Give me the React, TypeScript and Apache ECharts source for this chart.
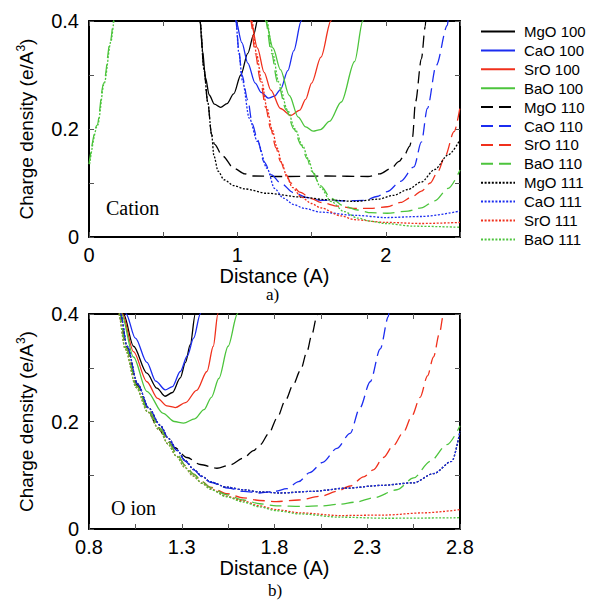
import React, { useEffect, useRef } from 'react';
import * as echarts from 'echarts';

// ---------- Legend / series names ----------
const seriesNames = [
  'MgO 100', 'CaO 100', 'SrO 100', 'BaO 100',
  'MgO 110', 'CaO 110', 'SrO 110', 'BaO 110',
  'MgO 111', 'CaO 111', 'SrO 111', 'BaO 111',
];

// ---------- Axis tick values ----------
const cationXTicks = [0, 1, 2];
const oIonXTicks = [0.8, 1.3, 1.8, 2.3, 2.8];
const yTicks = [0, 0.2, 0.4];

// ---------- Panel a) Cation : [distance (A), charge density (e/A^3)] ----------
const cationMgO100 = [[0.735,0.44],[0.748,0.40],[0.765,0.345],[0.785,0.295],[0.81,0.263],[0.845,0.246],[0.887,0.240],[0.93,0.247],[0.975,0.265],[1.023,0.300],[1.07,0.34],[1.11,0.375],[1.135,0.40],[1.145,0.42]];
const cationCaO100 = [[0.98,0.44],[0.99,0.40],[1.03,0.36],[1.07,0.322],[1.12,0.285],[1.16,0.268],[1.21,0.257],[1.25,0.261],[1.29,0.273],[1.34,0.308],[1.38,0.345],[1.43,0.40],[1.445,0.42]];
const cationSrO100 = [[1.08,0.44],[1.09,0.40],[1.135,0.35],[1.18,0.305],[1.225,0.272],[1.29,0.238],[1.36,0.225],[1.42,0.235],[1.46,0.255],[1.50,0.285],[1.563,0.333],[1.63,0.40],[1.645,0.42]];
const cationBaO100 = [[1.18,0.44],[1.19,0.40],[1.24,0.35],[1.29,0.31],[1.35,0.262],[1.41,0.222],[1.46,0.204],[1.51,0.196],[1.56,0.199],[1.62,0.214],[1.70,0.25],[1.79,0.325],[1.845,0.40],[1.86,0.42]];
const cationMgO110 = [[0.735,0.44],[0.748,0.40],[0.775,0.31],[0.80,0.25],[0.826,0.19],[0.845,0.172],[0.90,0.15],[0.977,0.127],[1.05,0.117],[1.11,0.113],[1.3,0.112],[1.6,0.113],[1.88,0.112],[1.96,0.117],[2.036,0.127],[2.09,0.14],[2.126,0.152],[2.16,0.168],[2.18,0.185],[2.20,0.25],[2.24,0.33],[2.266,0.39],[2.272,0.42]];
const cationCaO110 = [[0.98,0.44],[0.99,0.40],[1.01,0.345],[1.03,0.30],[1.07,0.254],[1.10,0.21],[1.135,0.18],[1.18,0.139],[1.23,0.115],[1.29,0.10],[1.38,0.082],[1.47,0.073],[1.56,0.068],[1.7,0.067],[1.86,0.068],[1.94,0.075],[2.01,0.084],[2.1,0.103],[2.19,0.13],[2.24,0.176],[2.28,0.238],[2.34,0.318],[2.415,0.392],[2.425,0.42]];
const cationSrO110 = [[1.08,0.44],[1.09,0.40],[1.12,0.34],[1.157,0.287],[1.19,0.24],[1.225,0.20],[1.26,0.165],[1.29,0.14],[1.33,0.115],[1.36,0.10],[1.42,0.083],[1.5,0.071],[1.56,0.064],[1.68,0.057],[1.79,0.053],[1.9,0.053],[2.01,0.056],[2.1,0.064],[2.18,0.075],[2.24,0.085],[2.3,0.10],[2.35,0.121],[2.4,0.15],[2.46,0.195],[2.5,0.24]];
const cationBaO110Left = [[0,0.135],[0.054,0.207],[0.099,0.285],[0.144,0.362],[0.166,0.40],[0.175,0.42]];
const cationBaO110 = [[1.18,0.44],[1.19,0.40],[1.23,0.34],[1.27,0.287],[1.33,0.235],[1.38,0.20],[1.43,0.17],[1.47,0.145],[1.5,0.122],[1.56,0.095],[1.63,0.072],[1.72,0.057],[1.81,0.05],[1.9,0.045],[2.01,0.044],[2.15,0.048],[2.24,0.054],[2.33,0.067],[2.42,0.09],[2.5,0.124]];
const cationMgO111 = [[0.735,0.44],[0.748,0.40],[0.775,0.31],[0.80,0.25],[0.826,0.19],[0.842,0.15],[0.87,0.122],[0.91,0.106],[0.977,0.095],[1.05,0.089],[1.2,0.081],[1.43,0.074],[1.6,0.069],[1.79,0.066],[1.95,0.07],[2.05,0.077],[2.15,0.088],[2.24,0.102],[2.33,0.125],[2.42,0.152],[2.5,0.18]];
const cationCaO111 = [[0.98,0.44],[0.99,0.40],[1.01,0.34],[1.034,0.29],[1.08,0.22],[1.135,0.177],[1.2,0.127],[1.25,0.09],[1.31,0.072],[1.38,0.06],[1.45,0.053],[1.56,0.046],[1.8,0.04],[2.0,0.036],[2.24,0.038],[2.5,0.048]];
const cationSrO111 = [[1.088,0.44],[1.098,0.40],[1.128,0.34],[1.165,0.287],[1.198,0.24],[1.233,0.20],[1.268,0.165],[1.298,0.138],[1.335,0.11],[1.37,0.092],[1.43,0.074],[1.5,0.062],[1.56,0.054],[1.7,0.039],[1.79,0.032],[2.0,0.027],[2.24,0.025],[2.5,0.027]];
const cationBaO111Left = [[0.004,0.135],[0.058,0.207],[0.103,0.285],[0.148,0.362],[0.17,0.40],[0.18,0.42]];
const cationBaO111 = [[1.188,0.44],[1.198,0.40],[1.238,0.34],[1.278,0.287],[1.338,0.235],[1.388,0.20],[1.438,0.17],[1.478,0.145],[1.51,0.12],[1.56,0.092],[1.63,0.066],[1.72,0.047],[1.81,0.035],[1.9,0.029],[2.0,0.025],[2.19,0.02],[2.5,0.018]];

// ---------- Panel b) O ion ----------
const oIonMgO100 = [[0.975,0.44],[0.986,0.40],[1.04,0.34],[1.112,0.29],[1.166,0.262],[1.21,0.247],[1.25,0.254],[1.292,0.281],[1.32,0.31],[1.346,0.343],[1.373,0.40],[1.38,0.42]];
const oIonCaO100 = [[0.99,0.44],[1.0,0.40],[1.05,0.355],[1.112,0.31],[1.16,0.275],[1.211,0.259],[1.25,0.265],[1.292,0.293],[1.33,0.322],[1.364,0.355],[1.40,0.40],[1.41,0.42]];
const oIonSrO100 = [[0.97,0.44],[0.98,0.40],[1.04,0.33],[1.112,0.274],[1.17,0.243],[1.22,0.229],[1.265,0.226],[1.32,0.235],[1.38,0.258],[1.436,0.293],[1.47,0.34],[1.495,0.40],[1.5,0.42]];
const oIonBaO100 = [[0.965,0.44],[0.975,0.40],[1.04,0.32],[1.112,0.256],[1.2,0.215],[1.26,0.2],[1.31,0.197],[1.37,0.205],[1.42,0.222],[1.46,0.245],[1.5,0.28],[1.55,0.34],[1.6,0.40],[1.61,0.42]];
const oIonMgO110 = [[0.955,0.44],[0.965,0.40],[1.0,0.34],[1.059,0.268],[1.12,0.222],[1.16,0.195],[1.202,0.176],[1.26,0.152],[1.328,0.133],[1.4,0.12],[1.49,0.113],[1.56,0.119],[1.633,0.132],[1.687,0.146],[1.723,0.157],[1.77,0.178],[1.813,0.206],[1.86,0.24],[1.9,0.268],[1.94,0.295],[1.975,0.33],[2.0,0.36],[2.028,0.395],[2.035,0.42]];
const oIonCaO110 = [[0.96,0.44],[0.97,0.40],[1.005,0.34],[1.062,0.27],[1.122,0.225],[1.184,0.192],[1.23,0.167],[1.274,0.146],[1.32,0.126],[1.364,0.11],[1.41,0.097],[1.454,0.087],[1.55,0.076],[1.633,0.07],[1.72,0.067],[1.8,0.07],[1.867,0.075],[1.93,0.088],[1.99,0.105],[2.06,0.124],[2.136,0.15],[2.208,0.178],[2.26,0.225],[2.316,0.274],[2.37,0.335],[2.414,0.395],[2.42,0.42]];
const oIonSrO110 = [[0.955,0.44],[0.965,0.40],[1.0,0.337],[1.059,0.265],[1.12,0.22],[1.184,0.187],[1.23,0.161],[1.274,0.139],[1.32,0.118],[1.364,0.102],[1.41,0.088],[1.454,0.078],[1.54,0.066],[1.633,0.058],[1.72,0.053],[1.81,0.051],[1.93,0.054],[2.05,0.061],[2.136,0.07],[2.208,0.08],[2.28,0.097],[2.333,0.11],[2.387,0.133],[2.44,0.155],[2.495,0.18],[2.54,0.21],[2.585,0.245],[2.625,0.285],[2.657,0.32],[2.69,0.365],[2.71,0.398],[2.72,0.42]];
const oIonBaO110 = [[0.955,0.44],[0.965,0.40],[1.0,0.337],[1.059,0.265],[1.12,0.22],[1.184,0.187],[1.23,0.161],[1.274,0.139],[1.32,0.118],[1.364,0.102],[1.41,0.088],[1.454,0.077],[1.54,0.064],[1.633,0.054],[1.72,0.047],[1.81,0.043],[1.95,0.042],[2.05,0.043],[2.15,0.046],[2.24,0.05],[2.333,0.058],[2.46,0.073],[2.55,0.095],[2.64,0.126],[2.73,0.157],[2.8,0.192]];
const oIonMgO111 = [[0.96,0.44],[0.97,0.40],[1.005,0.34],[1.062,0.27],[1.122,0.225],[1.184,0.193],[1.23,0.168],[1.274,0.147],[1.32,0.127],[1.364,0.111],[1.41,0.098],[1.454,0.088],[1.54,0.078],[1.633,0.073],[1.72,0.069],[1.83,0.067],[2.0,0.07],[2.19,0.076],[2.37,0.081],[2.55,0.086],[2.657,0.103],[2.756,0.126],[2.8,0.182]];
const oIonCaO111 = [[0.96,0.44],[0.97,0.40],[1.005,0.34],[1.062,0.27],[1.122,0.225],[1.184,0.193],[1.23,0.168],[1.274,0.147],[1.32,0.127],[1.364,0.111],[1.41,0.098],[1.454,0.088],[1.54,0.078],[1.633,0.073],[1.72,0.069],[1.83,0.067],[2.0,0.07],[2.19,0.076],[2.37,0.081],[2.55,0.086],[2.657,0.103],[2.756,0.126],[2.8,0.182]];
const oIonSrO111 = [[0.95,0.44],[0.96,0.40],[0.995,0.335],[1.055,0.263],[1.116,0.218],[1.18,0.184],[1.226,0.158],[1.27,0.136],[1.316,0.115],[1.36,0.099],[1.41,0.085],[1.454,0.075],[1.54,0.061],[1.633,0.052],[1.72,0.043],[1.81,0.036],[1.94,0.03],[2.15,0.025],[2.4,0.026],[2.6,0.03],[2.8,0.036]];
const oIonBaO111 = [[0.95,0.44],[0.96,0.40],[0.995,0.335],[1.055,0.263],[1.116,0.218],[1.18,0.184],[1.226,0.158],[1.27,0.136],[1.316,0.115],[1.36,0.099],[1.41,0.085],[1.454,0.074],[1.54,0.06],[1.633,0.05],[1.72,0.041],[1.81,0.034],[1.94,0.028],[2.15,0.022],[2.4,0.02],[2.8,0.021]];

const cationData = [cationMgO100, cationCaO100, cationSrO100, cationBaO100, cationMgO110, cationCaO110, cationSrO110, cationBaO110, cationMgO111, cationCaO111, cationSrO111, cationBaO111];
const oIonData = [oIonMgO100, oIonCaO100, oIonSrO100, oIonBaO100, oIonMgO110, oIonCaO110, oIonSrO110, oIonBaO110, oIonMgO111, oIonCaO111, oIonSrO111, oIonBaO111];

// ---------- Styles ----------
const COLORS = ['#000000', '#1b2cf0', '#f0301c', '#4cc43c'];
const DASHES: any[] = ['solid', [12, 6], [2, 1.6]];
const SANS = '"Liberation Sans", Arial, Helvetica, sans-serif';
const SERIF = '"Liberation Serif", "Times New Roman", serif';

const near = (v: number, list: number[]) => list.some((t) => Math.abs(t - v) < 1e-6);

export default function App() {
  const ref = useRef<HTMLDivElement>(null);
  useEffect(() => {
    if (!ref.current) return;
    const chart = echarts.init(ref.current, undefined, { renderer: 'svg' });

    const mkSeries = (name: string, idx: number, data: number[][], axis: number) => ({
      name,
      type: 'line',
      xAxisIndex: axis,
      yAxisIndex: axis,
      data,
      symbol: 'none',
      smooth: 0.3,
      smoothMonotone: 'x',
      clip: true,
      lineStyle: { color: COLORS[idx % 4], width: 1.3, type: DASHES[Math.floor(idx / 4)] },
      itemStyle: { color: COLORS[idx % 4] },
      emphasis: { disabled: true },
    });

    const series: any[] = [];
    seriesNames.forEach((n, i) => series.push(mkSeries(n, i, cationData[i], 0)));
    series.push(mkSeries('BaO 110', 7, cationBaO110Left, 0));
    series.push(mkSeries('BaO 111', 11, cationBaO111Left, 0));
    seriesNames.forEach((n, i) => series.push(mkSeries(n, i, oIonData[i], 2)));

    const frame = { show: true, onZero: false, lineStyle: { color: '#000', width: 2 } };
    const tick = { show: true, inside: true, length: 5, lineStyle: { color: '#555', width: 1 } };
    const lbl = { fontSize: 20, color: '#000', fontFamily: SANS };
    const nameStyle = {
      fontSize: 19, color: '#000', fontFamily: SANS,
      rich: { sup: { fontSize: 12, fontFamily: SANS, color: '#000', verticalAlign: 'top', padding: [0, 0, 10, 0] } },
    };

    const xPair = (grid: number, min: number, max: number, interval: number, ticks: number[], gap: number) => [
      {
        gridIndex: grid, type: 'value', min, max, interval, position: 'bottom',
        axisLine: frame, axisTick: tick, splitLine: { show: false },
        axisLabel: { ...lbl, margin: 8, formatter: (v: number) => (near(v, ticks) ? String(parseFloat(v.toFixed(2))) : '') },
        name: 'Distance (A)', nameLocation: 'middle', nameGap: gap,
        nameTextStyle: { fontSize: 20, color: '#000', fontFamily: SANS },
      },
      {
        gridIndex: grid, type: 'value', min, max, interval, position: 'top',
        axisLine: frame, axisTick: tick, splitLine: { show: false }, axisLabel: { show: false },
      },
    ];
    const yPair = (grid: number) => [
      {
        gridIndex: grid, type: 'value', min: 0, max: 0.4, interval: 0.1, position: 'left',
        axisLine: frame, axisTick: tick, splitLine: { show: false },
        axisLabel: { ...lbl, margin: 10, formatter: (v: number) => (near(v, yTicks) ? String(parseFloat(v.toFixed(2))) : '') },
        name: 'Charge density (e/A{sup|3})', nameLocation: 'middle', nameGap: 52, nameRotate: 90,
        nameTextStyle: nameStyle,
      },
      {
        gridIndex: grid, type: 'value', min: 0, max: 0.4, interval: 0.1, position: 'right',
        axisLine: frame, axisTick: tick, splitLine: { show: false }, axisLabel: { show: false },
      },
    ];

    const xs = [...xPair(0, 0, 2.5, 0.5, cationXTicks, 26), ...xPair(1, 0.8, 2.8, 0.25, oIonXTicks, 25)];
    const ys = [...yPair(0), ...yPair(1)];
    const option: any = {
      animation: false,
      backgroundColor: '#ffffff',
      grid: [
        { left: 89, top: 21, width: 371, height: 216 },
        { left: 89, top: 314, width: 371, height: 215 },
      ],
      xAxis: xs,
      yAxis: ys,
      legend: {
        data: seriesNames,
        orient: 'vertical',
        left: 480,
        top: 24,
        padding: 0,
        itemWidth: 34,
        itemHeight: 14,
        itemGap: 3.9,
        selectedMode: false,
        itemStyle: { opacity: 0 },
        textStyle: { fontSize: 15, lineHeight: 14, color: '#000', fontFamily: SANS, padding: [0, 0, 0, 4] },
      },
      graphic: [
        { type: 'text', left: 106, top: 198, style: { text: 'Cation', font: `20px ${SERIF}`, fill: '#000' } },
        { type: 'text', left: 111, top: 498, style: { text: 'O ion', font: `20px ${SERIF}`, fill: '#000' } },
        { type: 'text', left: 266, top: 286, style: { text: 'a)', font: `17px ${SERIF}`, fill: '#000' } },
        { type: 'text', left: 268, top: 582, style: { text: 'b)', font: `17px ${SERIF}`, fill: '#000' } },
      ],
      series,
    };
    chart.setOption(option);
    return () => chart.dispose();
  }, []);
  return <div ref={ref} style={{ position: 'fixed', left: 0, top: 0, width: 590, height: 600, background: '#fff' }} />;
}
